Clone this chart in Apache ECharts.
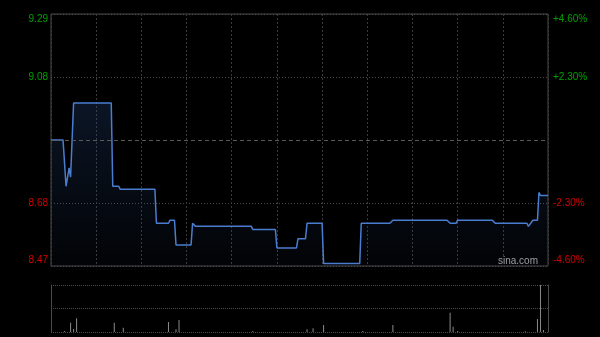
<!DOCTYPE html>
<html>
<head>
<meta charset="utf-8">
<script src="https://cdn.jsdelivr.net/npm/echarts@6/dist/echarts.min.js"></script>
<style>
html,body{margin:0;padding:0;background:#000;}
#chart{width:600px;height:337px;}
</style>
</head>
<body>
<div id="chart"></div>
<script>
// ---- data ----
const prevClose = 8.88;
const pctTicks = [4.6, 2.3, -2.3, -4.6];          // tick labels (percent)
const minutesTotal = 330;                          // 09:30-12:00, 13:00-16:00
// price points [minute, price]
const pricePoints = [
  [0,8.88],[8,8.88],[10,8.73],[12,8.79],[13,8.76],[15,9.00],
  [40,9.00],[41,8.73],[45,8.73],[46,8.72],[69,8.72],[70,8.61],
  [78,8.61],[79,8.62],[82,8.62],[83,8.54],[93,8.54],[94,8.61],
  [96,8.60],[133,8.60],[134,8.59],[149,8.59],[150,8.53],[163,8.53],
  [164,8.56],[169,8.56],[170,8.61],[180,8.61],[181,8.48],[205,8.48],
  [206,8.61],[225,8.61],[227,8.62],[263,8.62],[265,8.61],[269,8.61],
  [270,8.62],[293,8.62],[295,8.61],[316,8.61],[317,8.60],[318,8.60],
  [320,8.62],[323,8.62],[324,8.71],[325,8.70],[330,8.70]
];
// volume points [minute, volume]
const volumePoints = [
  [9,10],[13,93],[15,30],[17,137],[42,93],[48,43],[78,100],[83,27],
  [85,120],[134,10],[170,27],[174,37],[181,70],[207,10],[227,70],
  [265,193],[267,53],[270,10],[315,8],[323,130],[325,470],[327,20]
];

const upColor = '#00a000', downColor = '#d40000';
const font = 'Liberation Sans, Arial, sans-serif';
const priceMin = prevClose * (1 - 4.6 / 100);
const priceMax = prevClose * (1 + 4.6 / 100);
const volMax = Math.max(...volumePoints.map(d => d[1]));

function edgeRich(color) {
  return {
    t: {color: color, fontSize: 10, fontFamily: font, padding: [10, 0, 0, 0]},
    b: {color: color, fontSize: 10, fontFamily: font, padding: [0, 0, 12, 0]},
    m: {color: color, fontSize: 10, fontFamily: font}
  };
}
const richUp = edgeRich(upColor), richDown = edgeRich(downColor);
const rich = {
  tu: richUp.t, mu: richUp.m, bd: richDown.b, md: richDown.m
};

const chart = echarts.init(document.getElementById('chart'), null, {renderer: 'canvas'});
chart.setOption({
  backgroundColor: '#000',
  animation: false,
  grid: [
    {left: 51, top: 14, width: 497, height: 252, show: true, borderColor: '#4a4a4a', borderWidth: 1, backgroundColor: 'transparent'},
    {left: 51, top: 285, width: 497, height: 47}
  ],
  xAxis: [
    {type: 'value', gridIndex: 0, min: 0, max: minutesTotal, interval: 30,
     axisLine: {show: false}, axisTick: {show: false}, axisLabel: {show: false},
     splitLine: {show: true, lineStyle: {color: '#3a3a3a', type: [2, 2], width: 1}}},
    {type: 'value', gridIndex: 1, min: 0, max: minutesTotal, interval: 30,
     axisLine: {show: false}, axisTick: {show: false}, axisLabel: {show: false},
     splitLine: {show: false}}
  ],
  yAxis: [
    {type: 'value', gridIndex: 0, position: 'left', min: priceMin, max: priceMax,
     axisLine: {show: false}, axisTick: {show: false}, splitLine: {show: false},
     axisLabel: {
       customValues: pctTicks.map(p => prevClose * (1 + p / 100)),
       margin: 3,
       formatter: function (v) {
         const s = v.toFixed(2);
         if (Math.abs(v - priceMax) < 1e-6) return '{tu|' + s + '}';
         if (Math.abs(v - priceMin) < 1e-6) return '{bd|' + s + '}';
         return v > prevClose ? '{mu|' + s + '}' : '{md|' + s + '}';
       },
       rich: rich
     }},
    {type: 'value', gridIndex: 0, position: 'right', min: -4.6, max: 4.6, interval: 2.3,
     axisLine: {show: false}, axisTick: {show: false},
     splitLine: {show: true, lineStyle: {color: ['#4a4a4a', '#4a4a4a', 'rgba(0,0,0,0)', '#4a4a4a', '#4a4a4a'], type: [1, 2], width: 1}},
     axisLabel: {
       margin: 5,
       formatter: function (v) {
         if (Math.abs(v) < 1e-9) return '';
         const s = (v > 0 ? '+' : '') + v.toFixed(2) + '%';
         if (Math.abs(v - 4.6) < 1e-6) return '{tu|' + s + '}';
         if (Math.abs(v + 4.6) < 1e-6) return '{bd|' + s + '}';
         return v > 0 ? '{mu|' + s + '}' : '{md|' + s + '}';
       },
       rich: rich
     }},
    {type: 'value', gridIndex: 1, position: 'left', min: 0, max: volMax, interval: volMax / 2,
     axisLine: {show: true, lineStyle: {color: '#4a4a4a'}}, axisTick: {show: false}, axisLabel: {show: false},
     splitLine: {show: true, lineStyle: {color: '#4a4a4a', type: [1, 1], width: 1}}},
    {type: 'value', gridIndex: 1, position: 'right', min: 0, max: volMax, interval: volMax / 2,
     axisLine: {show: true, lineStyle: {color: '#4a4a4a'}}, axisTick: {show: false}, axisLabel: {show: false},
     splitLine: {show: false}}
  ],
  series: [
    {type: 'line', xAxisIndex: 0, yAxisIndex: 0, data: pricePoints, symbol: 'none',
     lineStyle: {color: '#4a7dd0', width: 1.5},
     areaStyle: {color: new echarts.graphic.LinearGradient(0, 0, 0, 1, [
       {offset: 0, color: 'rgba(45,85,150,0.35)'},
       {offset: 1, color: 'rgba(45,85,150,0.06)'}
     ])},
     markLine: {silent: true, symbol: 'none', label: {show: false},
       lineStyle: {color: '#5a5a5a', type: [4, 3], width: 1},
       data: [{yAxis: prevClose}]},
     z: 3},
    {type: 'bar', xAxisIndex: 1, yAxisIndex: 2, data: volumePoints, barWidth: 1,
     itemStyle: {color: '#8a8a8a'}}
  ],
  graphic: [
    {type: 'text', right: 62, top: 256, style: {text: 'sina.com', fill: '#a0a0a0', font: '10px ' + font}}
  ]
});
</script>
</body>
</html>
